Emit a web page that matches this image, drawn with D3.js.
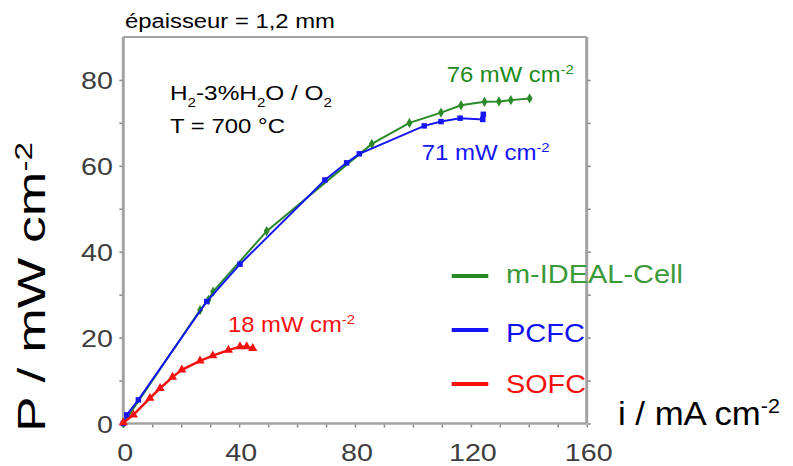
<!DOCTYPE html>
<html><head><meta charset="utf-8">
<script src="https://cdn.jsdelivr.net/npm/d3@7"></script>
<style>html,body{margin:0;padding:0;background:#fff;} svg{display:block;font-family:"Liberation Sans",Arial,sans-serif;}</style>
</head><body>
<svg id="c" width="793" height="466"></svg>
<script>
// ---- data ----
const idealI = [0, 26.5, 29.4, 31.0, 49.5, 85.8, 98.8, 109.7, 116.6, 124.7, 129.7, 133.8, 140.3];
const idealP = [0, 26.4, 28.8, 30.7, 44.8, 65.1, 70.0, 72.4, 74.1, 74.9, 75.0, 75.3, 75.7];
const pcfcI = [0, 1.2, 5.2, 28.8, 40.3, 69.6, 77.1, 81.5, 103.9, 109.7, 116.3, 124.1, 124.3];
const pcfcP = [0, 2.0, 5.5, 28.4, 37.1, 56.7, 60.7, 62.8, 69.3, 70.3, 71.1, 70.8, 72.0];
const sofcI = [0, 3.5, 9.2, 12.7, 17.0, 20.2, 26.5, 30.9, 36.3, 40.3, 42.6, 44.7];
const sofcP = [0.2, 2.0, 5.9, 8.2, 10.8, 12.5, 14.6, 15.8, 17.1, 17.9, 17.9, 17.5];
const seriesNames = ["m-IDEAL-Cell", "PCFC", "SOFC"];
const xTickLabels = [0, 40, 80, 120, 160];
const yTickLabels = [0, 20, 40, 60, 80];
const peakLabels = ["76", "71", "18"];

const svg = d3.select("#c");
const x = d3.scaleLinear().domain([0, 160]).range([123.3, 586.7]);
const y = d3.scaleLinear().domain([0, 90]).range([423.5, 37]);

const GREEN = "#2a8a2a", BLUE = "#1515f5", RED = "#f50f0f";
const AX = "#a3a3a3";

// helper: text fitted to width with horizontal scaling
function fitText(parent, tx, ty, width, size, color, parts, rotate) {
  const g = parent.append("g").attr("transform", `translate(${tx},${ty})` + (rotate ? ` rotate(${rotate})` : ""));
  const inner = g.append("g");
  const t = inner.append("text").attr("font-size", size).attr("fill", color);
  parts.forEach(p => {
    const ts = t.append("tspan").text(p.t);
    if (p.sup) ts.attr("font-size", size * 0.62).attr("baseline-shift", "super");
    if (p.sub) ts.attr("font-size", size * 0.62).attr("baseline-shift", "sub");
  });
  const w = t.node().getBBox().width;
  inner.attr("transform", `scale(${width / w},1)`);
  return g;
}

// frame
const f = svg.append("g");
f.append("line").attr("x1", x(0)).attr("x2", x(160)).attr("y1", y(90)).attr("y2", y(90)).attr("stroke", AX).attr("stroke-width", 2);
f.append("line").attr("x1", x(160)).attr("x2", x(160)).attr("y1", y(90)).attr("y2", y(0)).attr("stroke", AX).attr("stroke-width", 3);
f.append("line").attr("x1", x(0)).attr("x2", x(160)).attr("y1", y(0)).attr("y2", y(0)).attr("stroke", AX).attr("stroke-width", 2.5);
f.append("line").attr("x1", x(0)).attr("x2", x(0)).attr("y1", y(90)).attr("y2", y(0)).attr("stroke", AX).attr("stroke-width", 3);

// ticks via d3 axes
const xa = svg.append("g").attr("transform", `translate(0,${y(0)+1})`)
  .call(d3.axisBottom(x).tickValues(d3.range(0, 161, 10)).tickSize(3).tickFormat(""));
const ya = svg.append("g").attr("transform", `translate(${x(0)-1},0)`)
  .call(d3.axisLeft(y).tickValues(d3.range(0, 81, 10)).tickSize(3).tickFormat(""));
const yr = svg.append("g").attr("transform", `translate(${x(160)+1},0)`)
  .call(d3.axisRight(y).tickValues(d3.range(0, 81, 10)).tickSize(3).tickFormat(""));
[xa, ya, yr].forEach(a => { a.select(".domain").remove(); a.selectAll(".tick line").attr("stroke", "#888").attr("stroke-width", 1.5); });

// tick labels
const TL = "#3d3d3d";
xTickLabels.forEach(v => {
  svg.append("text").attr("transform", `translate(${x(v)+2},461) scale(1.17,1)`)
    .attr("text-anchor", "middle").attr("font-size", 24.5).attr("fill", TL).text(v);
});
yTickLabels.forEach(v => {
  svg.append("text").attr("transform", `translate(113,${y(v)+9}) scale(1.17,1)`)
    .attr("text-anchor", "end").attr("font-size", 24.5).attr("fill", TL).text(v);
});

// series
const series = [
  {I: idealI, P: idealP, c: GREEN, sym: d3.symbolDiamond, size: 30, w: 2},
  {I: pcfcI, P: pcfcP, c: BLUE, sym: d3.symbolSquare, size: 30, w: 2},
  {I: sofcI, P: sofcP, c: RED, sym: d3.symbolTriangle, size: 36, w: 2.5}
];
const line = d3.line().x(d => x(d[0])).y(d => y(d[1]));
series.forEach(s => {
  const pts = s.I.map((v, i) => [v, s.P[i]]);
  svg.append("path").datum(pts).attr("d", line).attr("fill", "none").attr("stroke", s.c).attr("stroke-width", s.w);
  svg.append("g").selectAll("path").data(pts).join("path")
    .attr("transform", d => `translate(${x(d[0])},${y(d[1])})`)
    .attr("d", d3.symbol().type(s.sym).size(s.size)).attr("fill", s.c);
});

// legend
const legColors = [GREEN, BLUE, RED];
const legText = ["#3a9a3a", "#1010f0", "#f51010"];
const legLineY = [276, 330, 384];
const legBase = [283.3, 341.7, 393.3];
const legW = [177, 79, 80];
seriesNames.forEach((n, i) => {
  svg.append("line").attr("x1", 451.7).attr("x2", 488.3).attr("y1", legLineY[i]).attr("y2", legLineY[i])
    .attr("stroke", legColors[i]).attr("stroke-width", 4);
  fitText(svg, 506, legBase[i], legW[i], 25, legText[i], [{t: n}]);
});

// peak annotations
fitText(svg, 446.7, 81.7, 127, 22, "#1a8a1a", [{t: peakLabels[0] + " mW cm"}, {t: "-2", sup: true}]);
fitText(svg, 421.7, 160, 128, 22, BLUE, [{t: peakLabels[1] + " mW cm"}, {t: "-2", sup: true}]);
fitText(svg, 228, 331.7, 127, 22, RED, [{t: peakLabels[2] + " mW cm"}, {t: "-2", sup: true}]);

// condition texts
fitText(svg, 125, 28, 210, 21, "#000", [{t: "épaisseur = 1,2 mm"}]);
fitText(svg, 170, 100, 162, 21, "#000", [{t: "H"}, {t: "2", sub: true}, {t: "-3%H"}, {t: "2", sub: true}, {t: "O / O"}, {t: "2", sub: true}]);
fitText(svg, 170, 133, 115, 21, "#000", [{t: "T = 700 °C"}]);

// axis titles
fitText(svg, 618, 425, 162, 34, "#000", [{t: "i / mA cm"}, {t: "-2", sup: true}]);
fitText(svg, 45, 432, 290, 38, "#000", [{t: "P / mW cm"}, {t: "-2", sup: true}], -90);
</script>
</body></html>
